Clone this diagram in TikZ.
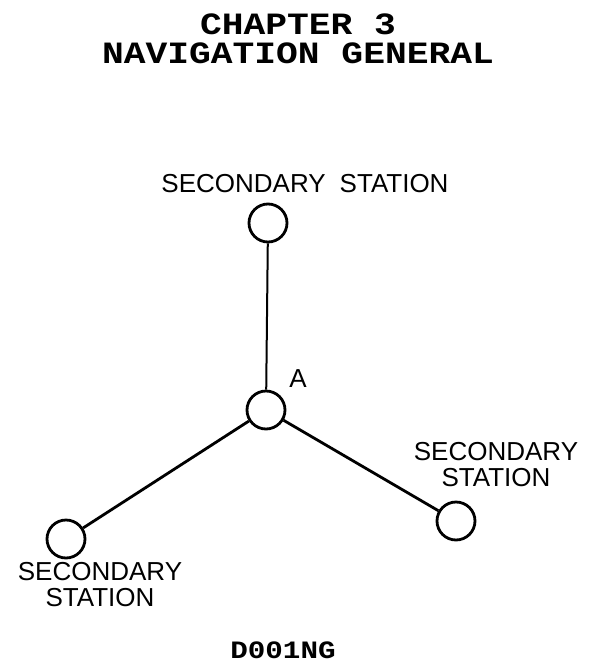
\documentclass[tikz,border=0pt]{standalone}
\usepackage{fontspec}
\setmainfont{Liberation Sans}
\newfontfamily\typefont[FakeStretch=1.17]{Liberation Mono}
\usetikzlibrary{positioning}

\begin{document}
\begin{tikzpicture}[x=1pt,y=-1pt,
    stn/.style={draw,circle,minimum size=38pt,inner sep=0pt,line width=2.8pt},
    lbl/.style={font=\fontsize{26}{26}\selectfont,align=center,inner sep=0pt},
    ttl/.style={font=\typefont\bfseries\fontsize{31}{29}\selectfont,align=center,inner sep=0pt}]
  \useasboundingbox (0,0) rectangle (589,670);
  % title
  \node[ttl] (title) at (298,39) {CHAPTER 3\\NAVIGATION GENERAL};
  % stations
  \node[stn] (top) at (268,223) {};
  \node[stn] (A) at (266,410) {};
  \node[stn] (left) at (66,539) {};
  \node[stn] (right) at (456,521) {};
  \draw[line width=2pt] (top) -- (A);
  \draw[line width=2.8pt] (A) -- (left);
  \draw[line width=2.8pt] (A) -- (right);
  % labels
  \node[lbl] (toplbl) at (305,184) {SECONDARY\hspace{14pt}STATION};
  \node[lbl] (Albl) at (298,379) {A};
  \node[lbl] (leftlbl) at (100,585) {SECONDARY\\STATION};
  \node[lbl] (rightlbl) at (496,465) {SECONDARY\\STATION};
  \node[font=\typefont\bfseries\fontsize{25}{25}\selectfont,inner sep=0pt] (code) at (283,650) {D001NG};
\end{tikzpicture}
\end{document}
